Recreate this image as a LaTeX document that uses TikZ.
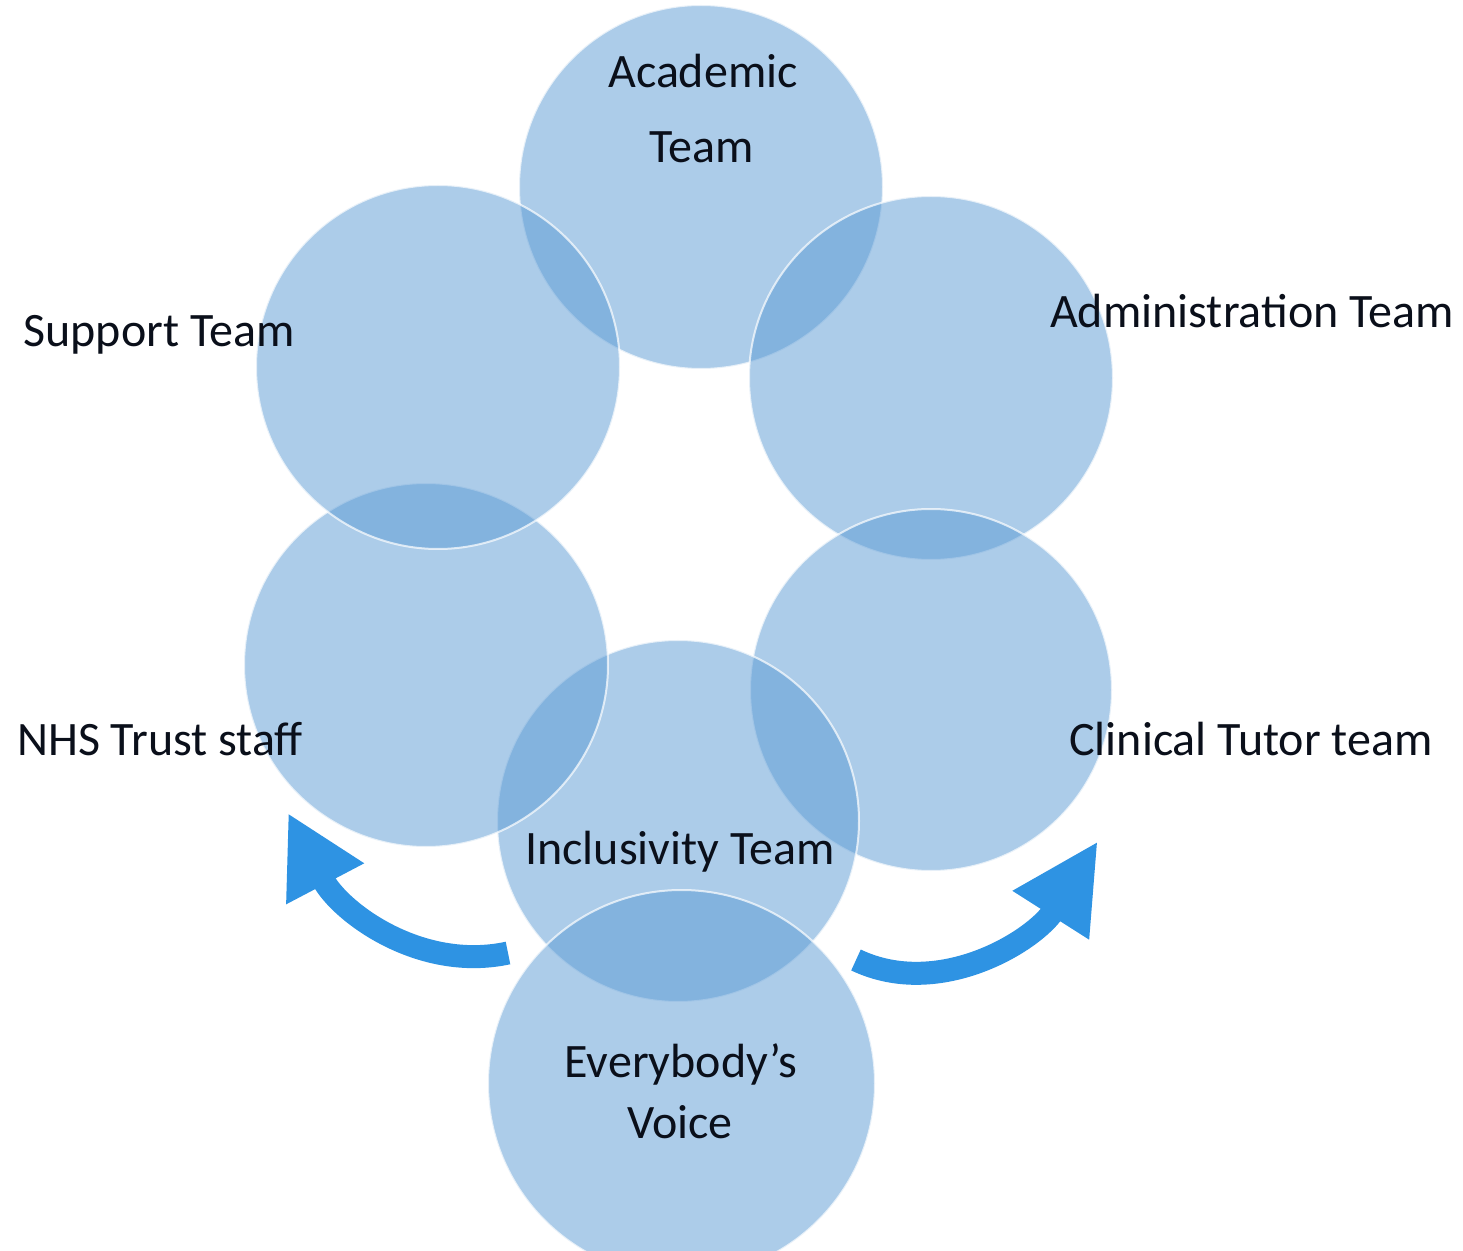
\documentclass[tikz,border=0pt]{standalone}
\usepackage{fontspec}
\setmainfont{Carlito}
\usetikzlibrary{arrows.meta}
\definecolor{circblue}{HTML}{5B9BD5}
\definecolor{arrblue}{HTML}{2E93E3}
\definecolor{txt}{HTML}{0A0F1A}
\begin{document}
\begin{tikzpicture}[x=0.5pt,y=-0.5pt,
  team/.style={circle, minimum size=#1, inner sep=0pt, fill=circblue, fill opacity=0.5,
               draw=white, draw opacity=0.7, line width=1pt},
  lbl/.style={anchor=base, text=txt, font=\fontsize{24}{29}\selectfont, inner sep=0pt},
  flow/.style={line width=11.5pt, draw=arrblue}
]
\useasboundingbox (0,0) rectangle (1463,1251);
\clip (0,0) rectangle (1463,1251);
\fill[white] (0,0) rectangle (1463,1251);

% circles
\node[team=182pt] (acad)  at (701,187) {};
\node[team=182pt] (admin) at (931,378) {};
\node[team=181pt] (clin)  at (931,690) {};
\node[team=181pt] (incl)  at (678,821) {};
\node[team=182pt] (nhs)   at (426,665) {};
\node[team=182pt] (supp)  at (438,367) {};
\node[team=193.5pt] (every) at (681.5,1083.5) {};

% arrows
\coordinate (lt) at (508,953);
\coordinate (lh) at (288,813);
\coordinate (rt) at (856,960);
\coordinate (rh) at (1098,841);
\draw[flow, -{Triangle[length=40pt,width=41pt]}] (lt) .. controls (420,972) and (340,912) .. (lh);
\draw[flow, -{Triangle[length=44pt,width=42pt]}] (rt) .. controls (940,1000) and (1035,940) .. (rh);

% labels
\node[lbl] (tacad1) at (703,88) {Academic};
\node[lbl] (tacad2) at (702,163) {Team};
\node[lbl] (tsupp)  at (159,347) {Support Team};
\node[lbl] (tadmin) at (1252,328) {Administration Team};
\node[lbl] (tnhs)   at (160,755) {NHS Trust staff};
\node[lbl] (tclin)  at (1251,755) {Clinical Tutor team};
\node[lbl] (tincl)  at (680,864) {Inclusivity Team};
\node[lbl] (tev1)   at (681,1077) {Everybody’s};
\node[lbl] (tev2)   at (680,1138) {Voice};
\end{tikzpicture}
\end{document}
